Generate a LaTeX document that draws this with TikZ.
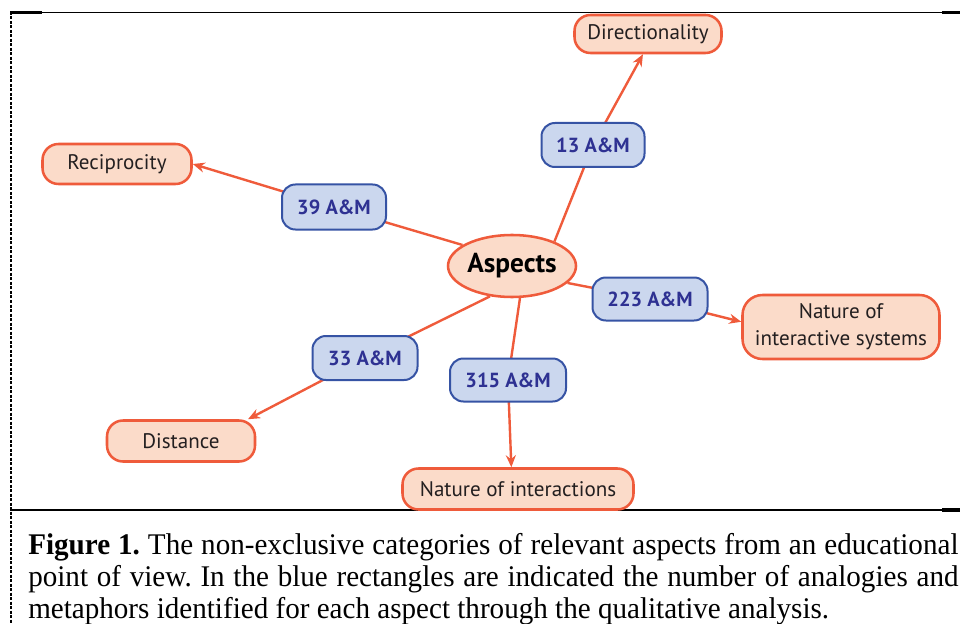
\documentclass[tikz,border=0pt]{standalone}
\usepackage{fontspec}
\usepackage{graphicx}
\setmainfont{Liberation Serif}
\newfontfamily\dfont{PT Sans}
\usetikzlibrary{shapes.geometric,arrows.meta}
\newlength\pxu \setlength\pxu{0.75pt}
\definecolor{oline}{RGB}{239,91,59}
\definecolor{ofill}{RGB}{251,219,201}
\definecolor{bfill}{RGB}{203,215,238}
\definecolor{bline}{RGB}{54,83,164}
\definecolor{btext}{RGB}{46,49,146}
\definecolor{dtext}{RGB}{35,31,32}
\pgfdeclarelayer{bg}
\pgfsetlayers{bg,main}
\begin{document}
\begin{tikzpicture}[x=0.75pt,y=-0.75pt,
  cat/.style={draw=oline, fill=ofill, line width=1.9pt, rounded corners=12pt,
    font=\dfont\fontsize{15.8}{20}\selectfont, text=dtext, inner sep=0pt, align=center},
  lab/.style={draw=bline, fill=bfill, line width=1.5pt, rounded corners=10pt,
    font=\dfont\bfseries\fontsize{15.3}{17}\selectfont, text=btext, inner sep=0pt},
  conn/.style={draw=oline, line width=1.8pt},
  arr/.style={conn, -{Stealth[length=9pt,width=7.5pt]}},
  frame/.style={draw=black}
]
\useasboundingbox (0,0) rectangle (960,624);
% frame
\draw[frame, line width=1.3\pxu] (10,12.5) -- (960,12.5);
\draw[frame, line width=2.6\pxu] (10,12.5) -- (42,12.5);
\draw[frame, line width=2.6\pxu] (942,12.5) -- (960,12.5);
\draw[frame, line width=2\pxu, dash pattern=on 3\pxu off 1.5\pxu] (10.5,12) -- (10.5,624);
\draw[frame, line width=2.6\pxu] (10,510) -- (960,510);
\draw[frame, line width=3.4\pxu] (942,510) -- (960,510);

% nodes
\node[ellipse, draw=oline, fill=ofill, line width=1.9pt, minimum width=128\pxu, minimum height=62\pxu,
  inner sep=0pt, font=\dfont\bfseries\fontsize{20.5}{23}\selectfont, text=black] (asp) at (512,266) {Aspects};

\node[cat, minimum width=147\pxu, minimum height=38\pxu] (dir) at (648,34) {Directionality};
\node[cat, minimum width=149\pxu, minimum height=40\pxu] (rec) at (117,164) {Reciprocity};
\node[cat, minimum width=197\pxu, minimum height=64\pxu, rounded corners=15pt] (nis) at (841,327) {Nature of\\interactive systems};
\node[cat, minimum width=148\pxu, minimum height=41\pxu] (dis) at (181,441) {Distance};
\node[cat, minimum width=231\pxu, minimum height=41\pxu] (int) at (518,489) {Nature of interactions};

\node[lab, minimum width=103\pxu, minimum height=44\pxu] (b13) at (593,145) {13 A\&M};
\node[lab, minimum width=104\pxu, minimum height=45\pxu] (b39) at (334,207) {39 A\&M};
\node[lab, minimum width=115\pxu, minimum height=43\pxu] (b223) at (650,299) {223 A\&M};
\node[lab, minimum width=105\pxu, minimum height=44\pxu] (b33) at (365,358) {33 A\&M};
\node[lab, minimum width=116\pxu, minimum height=43\pxu] (b315) at (508,380) {315 A\&M};

% connectors
\begin{pgfonlayer}{bg}
\draw[conn] (asp.30) -- (b13.center);
\draw[arr] (b13.center) -- (dir.256);
\draw[conn] (asp.157) -- (b39.center);
\draw[arr] (b39.center) -- (rec.east);
\draw[conn] (asp.-17) -- (b223.center);
\draw[arr] (b223.center) -- (nis.177);
\draw[conn] (asp.-126) -- (b33.center);
\draw[arr] (b33.center) -- (dis.18);
\draw[conn] (asp.-76) -- (b315.center);
\draw[arr] (b315.center) -- (int.107);
\end{pgfonlayer}

% caption
\node[anchor=base west, inner sep=0pt] (cap) at (28,554) {\scalebox{0.97}[1]{\parbox[t]{959\pxu}{\fontsize{22.5}{24}\selectfont\frenchspacing
\textbf{Figure 1.} The non-exclusive categories of relevant aspects from an educational\linebreak
point of view. In the blue rectangles are indicated the number of analogies and\linebreak
metaphors identified for each aspect through the qualitative analysis.}}};
\end{tikzpicture}
\end{document}
